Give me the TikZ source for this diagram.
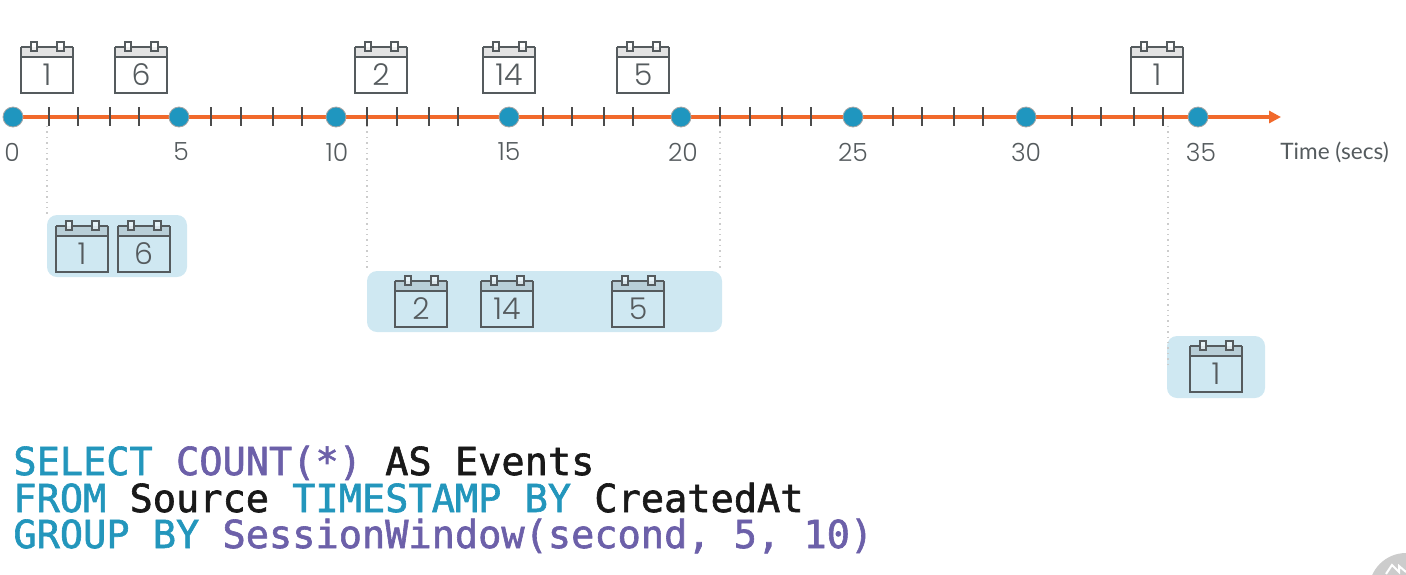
\documentclass[tikz,border=0pt]{standalone}
\usepackage{fontspec}
\usetikzlibrary{arrows.meta}

\setmonofont[FakeBold=1.6]{DejaVu Sans Mono}
\newfontfamily\labelfont{Poppins Light}
\newfontfamily\axisfont{Lato}

\definecolor{axisorange}{HTML}{F1692B}
\definecolor{dotblue}{HTML}{1F96BF}
\definecolor{winblue}{HTML}{CFE8F2}
\definecolor{calgray}{HTML}{555B5E}
\definecolor{sqlteal}{HTML}{2396BC}
\definecolor{sqlpurple}{HTML}{6C60A9}

\tikzset{
  timedot/.style={circle, draw=gray!70, thin, fill=dotblue, minimum size=10pt, inner sep=0pt},
  timelabel/.style={font=\labelfont\fontsize{12.5}{14}\selectfont, text=calgray, inner sep=0pt},
  timeline/.style={draw=axisorange, line width=2pt, -{Triangle[length=6pt,width=6pt]}},
  timetick/.style={draw=black!70, line width=1.4pt},
  leader/.style={draw=black!20, dotted, line width=.7pt},
  winbox/.style={fill=winblue, rounded corners=5pt, inner sep=0pt},
  sqlline/.style={anchor=base west, inner sep=0pt, font=\ttfamily\fontsize{19.3}{22}\selectfont},
  calline/.style={draw=calgray, line width=1pt},
  calhead/.style={fill=black, fill opacity=.11},
  calpeg/.style={draw=calgray, line width=1pt, fill=white, fill opacity=.5},
  pics/calicon/.style={code={
    \fill[calhead] (-26,0) rectangle (26,10);
    \draw[calline] (-26,0) -- (-26,46) -- (26,46) -- (26,0);
    \draw[calline] (-26,10) -- (26,10);
    \draw[calline] (-26,0) -- (-16,0);
    \draw[calline] (-10,0) -- (10,0);
    \draw[calline] (17,0) -- (26,0);
    \draw[calpeg] (-16,-5) rectangle (-10,4);
    \draw[calpeg] (10,-5) rectangle (17,4);
    \node[font=\labelfont\fontsize{15}{16}\selectfont, text=calgray, inner sep=0pt] (-num) at (0,28) {#1};
  }}
}

\begin{document}
\begin{tikzpicture}[x=.5pt, y=-.5pt]

  \clip (0,0) rectangle (1406,574);
  \useasboundingbox (0,0) rectangle (1406,574);

  % windows
  \node[winbox, minimum width=70pt, minimum height=31pt] (winA) at (117,246) {};
  \node[winbox, minimum width=177.5pt, minimum height=30.5pt] (winB) at (544.5,301.5) {};
  \node[winbox, minimum width=49pt, minimum height=31pt] (winC) at (1216,367) {};

  % leaders
  \coordinate (leadA) at (47,126);
  \coordinate (leadB) at (367,126);
  \coordinate (leadC) at (720,126);
  \coordinate (leadD) at (1168,126);
  \coordinate (leadE) at (1168,366);
  \draw[leader] (leadA) -- (leadA |- winA.north);
  \draw[leader] (leadB) -- (leadB |- winB.north);
  \draw[leader] (leadC) -- (leadC |- winB.north);
  \draw[leader] (leadD) -- (leadE);

  % time axis
  \coordinate (axisstart) at (13,117);
  \coordinate (axisend) at (1281,117);
  \draw[timeline] (axisstart) -- (axisend);

  \draw[timetick] (49,107) -- (49,126);
  \draw[timetick] (78,107) -- (78,126);
  \draw[timetick] (110,107) -- (110,126);
  \draw[timetick] (139,107) -- (139,126);
  \draw[timetick] (211,107) -- (211,126);
  \draw[timetick] (241,107) -- (241,126);
  \draw[timetick] (273,107) -- (273,126);
  \draw[timetick] (302,107) -- (302,126);
  \draw[timetick] (367,107) -- (367,126);
  \draw[timetick] (397,107) -- (397,126);
  \draw[timetick] (429,107) -- (429,126);
  \draw[timetick] (458,107) -- (458,126);
  \draw[timetick] (543,107) -- (543,126);
  \draw[timetick] (572,107) -- (572,126);
  \draw[timetick] (604,107) -- (604,126);
  \draw[timetick] (633,107) -- (633,126);
  \draw[timetick] (720,107) -- (720,126);
  \draw[timetick] (750,107) -- (750,126);
  \draw[timetick] (782,107) -- (782,126);
  \draw[timetick] (811,107) -- (811,126);
  \draw[timetick] (893,107) -- (893,126);
  \draw[timetick] (922,107) -- (922,126);
  \draw[timetick] (954,107) -- (954,126);
  \draw[timetick] (983,107) -- (983,126);
  \draw[timetick] (1072,107) -- (1072,126);
  \draw[timetick] (1101,107) -- (1101,126);
  \draw[timetick] (1134,107) -- (1134,126);
  \draw[timetick] (1163,107) -- (1163,126);

  \node[timedot] (dot0) at (axisstart) {};
  \node[timedot] (dot5) at (179,117) {};
  \node[timedot] (dot10) at (336,117) {};
  \node[timedot] (dot15) at (509,117) {};
  \node[timedot] (dot20) at (681,117) {};
  \node[timedot] (dot25) at (853,117) {};
  \node[timedot] (dot30) at (1026,117) {};
  \node[timedot] (dot35) at (1198,117) {};

  \node[timelabel] (lab0) at (12,152) {0};
  \node[timelabel] (lab5) at (181,152) {5};
  \node[timelabel] (lab10) at (337,152) {10};
  \node[timelabel] (lab15) at (509,152) {15};
  \node[timelabel] (lab20) at (683,152) {20};
  \node[timelabel] (lab25) at (853,152) {25};
  \node[timelabel] (lab30) at (1026,152) {30};
  \node[timelabel] (lab35) at (1201,152) {35};
  \node[timelabel, font=\axisfont\fontsize{11.3}{14}\selectfont, anchor=west] (labtime) at (1280,152.5) {Time (secs)};

  % events on the axis
  \pic (calA) at (47,47) {calicon={1}};
  \pic (calB) at (141,47) {calicon={6}};
  \pic (calC) at (381,47) {calicon={2}};
  \pic (calD) at (509,47) {calicon={14}};
  \pic (calE) at (643,47) {calicon={5}};
  \pic (calF) at (1157,47) {calicon={1}};

  % events in the windows
  \pic (calG) at (82,226) {calicon={1}};
  \pic (calH) at (143.5,226) {calicon={6}};
  \pic (calI) at (421,281) {calicon={2}};
  \pic (calJ) at (507,281) {calicon={14}};
  \pic (calK) at (638,281) {calicon={5}};
  \pic (calL) at (1216,346) {calicon={1}};

  % query
  \node[sqlline] (sqlA) at (13,475) {\textcolor{sqlteal}{SELECT} \textcolor{sqlpurple}{COUNT(*)} \textcolor{black!90}{AS Events}};
  \node[sqlline] (sqlB) at (13,512) {\textcolor{sqlteal}{FROM} \textcolor{black!90}{Source} \textcolor{sqlteal}{TIMESTAMP BY} \textcolor{black!90}{CreatedAt}};
  \node[sqlline] (sqlC) at (13,548) {\textcolor{sqlteal}{GROUP BY} \textcolor{sqlpurple}{SessionWindow(second, 5, 10)}};

  % corner badge
  \fill[black!20] (1406,590) circle [radius=37];
  \draw[white, line width=1pt] (1386,574) -- (1392,565) -- (1399,572) -- (1399,566) -- (1406,572);

\end{tikzpicture}
\end{document}
